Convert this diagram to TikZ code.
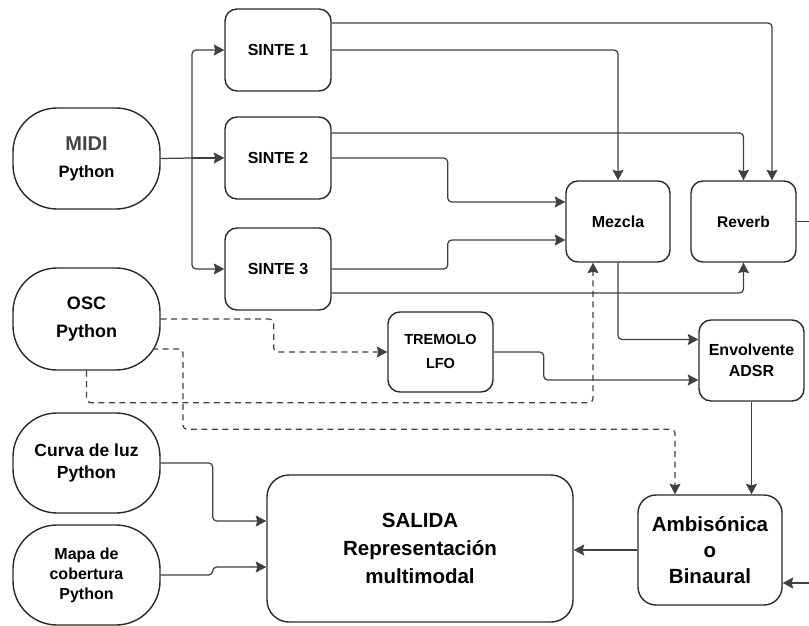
\documentclass[tikz,border=0pt]{standalone}
\usepackage{fontspec}
\setmainfont{Liberation Sans}
\usetikzlibrary{arrows.meta,calc}
\definecolor{edgecol}{HTML}{2B2A24}
\definecolor{wirecol}{HTML}{404040}
\definecolor{midicol}{HTML}{444444}
\pgfdeclarelayer{bg}
\pgfsetlayers{bg,main}
\begin{document}
\begin{tikzpicture}[x=1pt,y=-1pt,
  blk/.style={draw=edgecol,line width=1.4pt,fill=white,rounded corners=12pt,
    inner sep=0pt,align=center},
  src/.style={blk,rounded corners=44pt,minimum width=147pt,minimum height=101pt},
  syn/.style={blk,minimum width=106pt,minimum height=82pt,
    font=\bfseries\fontsize{16}{20}\selectfont},
  wire/.style={draw=wirecol,line width=1.25pt,rounded corners=4pt},
  flow/.style={wire,-{Stealth[length=10.5pt,width=11pt,inset=1.5pt]}},
  ctrl/.style={flow,dash pattern=on 6pt off 4.5pt},
]
\useasboundingbox (0,0) rectangle (809,626);

% sources
\node[src,font=\bfseries\fontsize{16.5}{27}\selectfont] (midi) at (86.5,158.5)
  {{\fontsize{20}{27}\selectfont\color{midicol}MIDI}\\Python};
\node[src,minimum height=102pt,font=\bfseries\fontsize{18}{28}\selectfont] (osc) at (86.5,319)
  {OSC\\Python};
\node[src,minimum height=100pt,font=\bfseries\fontsize{17.5}{22}\selectfont] (curva) at (86.5,463)
  {Curva de luz\\Python};
\node[src,minimum height=100pt,font=\bfseries\fontsize{16}{20}\selectfont] (mapa) at (86.5,575)
  {Mapa de\\cobertura\\Python};

% synths
\node[syn] (s1) at (278,50) {SINTE 1};
\node[syn] (s2) at (278,158) {SINTE 2};
\node[syn] (s3) at (278,269) {SINTE 3};

% processing
\node[syn,minimum width=104pt,minimum height=81pt] (mez) at (618,221.5) {Mezcla};
\node[syn,minimum width=105pt,minimum height=81pt,
  font=\bfseries\fontsize{15.5}{20}\selectfont] (rev) at (743.5,221.5) {Reverb};
\node[syn,minimum width=105pt,minimum height=80pt,
  font=\bfseries\fontsize{14.5}{24}\selectfont] (trem) at (440.5,352) {TREMOLO\\LFO};
\node[syn,minimum width=105pt,minimum height=81pt,
  font=\bfseries\fontsize{16}{21}\selectfont] (env) at (751.5,360.5) {Envolvente\\ADSR};
\node[blk,minimum width=144pt,minimum height=110pt,rounded corners=18pt,
  font=\bfseries\fontsize{20.5}{26}\selectfont] (amb) at (710,550) {Ambisónica\\o\\Binaural};
\node[blk,minimum width=306pt,minimum height=147pt,rounded corners=22pt,
  font=\bfseries\fontsize{20.5}{28}\selectfont] (sal) at (420,548.5)
  {SALIDA\\Representación\\multimodal};

% free ends at the right margin
\coordinate (revout) at (809,221.5);
\coordinate (ambin) at (809,583);
\coordinate (fan) at (192,158);

\begin{pgfonlayer}{bg}
  % MIDI to synths
  \draw[wire] (midi.east) -- (fan);
  \draw[flow] (fan) |- (s1.west);
  \draw[flow] (fan) -- (s2.west);
  \draw[flow] (fan) |- (s3.west);

  % synths to mixer and reverb
  \draw[flow] ($(s1.east)+(0,-27)$) -| ($(rev.north)+(28.5,0)$);
  \draw[flow] (s1.east) -| (mez.north);
  \draw[flow] ($(s2.east)+(0,-25)$) -| (rev.north);
  \draw[flow] (s2.east) -- ++(116,0) |- ($(mez.west)+(0,-19.5)$);
  \draw[flow] (s3.east) -- ++(116,0) |- ($(mez.west)+(0,18.5)$);
  \draw[flow] ($(s3.east)+(0,24)$) -| (rev.south);
  \draw[wire] (rev.east) -- (revout);

  % envelope chain
  \draw[flow] (mez.south) |- ($(env.west)+(0,-21)$);
  \draw[flow] (trem.east) -- ++(50,0) |- ($(env.west)+(0,19.5)$);
  \draw[flow] (env.south) -- (env.south |- amb.north);
  \draw[flow] (ambin) -- (amb.east |- ambin);
  \draw[flow] (amb.west) -- (sal.east |- amb.west);

  % OSC control
  \draw[ctrl] (osc.east) -- ++(113,0) |- (trem.west);
  \draw[ctrl] ($(osc.center)+(55,30)$) -- ++(41.5,0) |- ($(amb.north)+(-35,-65)$)
    -- ($(amb.north)+(-35,0)$);
  \draw[ctrl] (osc.south) -- ++(0,32) -| ($(mez.south)+(-25,0)$);

  % data sources to output
  \draw[flow] (curva.east) -- ++(52,0) |- ($(sal.west)+(0,-27.5)$);
  \draw[flow] (mapa.east) -- ++(52,0) |- ($(sal.west)+(0,18.5)$);
\end{pgfonlayer}
\end{tikzpicture}
\end{document}
